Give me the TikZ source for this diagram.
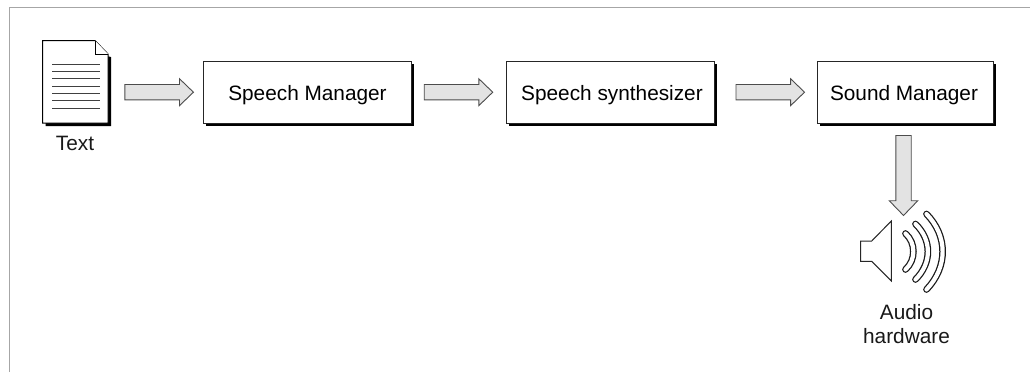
\documentclass[tikz,border=0pt]{standalone}
\usepackage{fontspec}
\setmainfont{Liberation Sans}
\usetikzlibrary{shapes.arrows,calc,positioning}
\tikzset{
  x=1pt,y=-1pt,
  box/.style={draw=black!85,line width=1pt,fill=white,minimum height=62pt,inner sep=0pt,anchor=north west,
    text height=20pt,text depth=4pt,font=\fontsize{20.8}{24}\selectfont},
  blockarrow/.style={single arrow,draw=black!70,fill=black!11,line width=0.9pt,inner sep=7.25pt,
    minimum height=#1,single arrow head extend=5.75pt,single arrow tip angle=88},
  lbl/.style={font=\fontsize{20.8}{24}\selectfont,align=center,inner sep=0pt,text=black!90},
  wave/.style={draw=black!90,line width=1.25pt,double=white,double distance=4.2pt,line cap=round},
  rule/.style={draw=black!35,line width=1pt}
}
\newcommand{\procbox}[4]{%
  \fill[black] ($(#2)+(3,3)$) rectangle +(#3,62);
  \node[box,minimum width=#3pt] (#1) at (#2) {#4};}
\begin{document}
\begin{tikzpicture}
\useasboundingbox (0,0) rectangle (1030,372);
\coordinate (fa) at (9.5,372);
\coordinate (fb) at (9.5,7);
\coordinate (fc) at (1030,7);
\draw[rule] (fa) -- (fb) -- (fc);
% document icon
\fill[black] (45.5,43.5) -- (111,57) -- (111,126) -- (45.5,126) -- cycle;
\draw[fill=white,draw=black,line width=1pt,line join=miter] (42.5,40.5) -- (95,40.5) -- (108,54) -- (108,123) -- (42.5,123) -- cycle;
\draw[black,line width=1pt,fill=white] (95,40.5) -- (95,54) -- (108,54);
\foreach \yy in {64,71.3,78.7,86,93.3,100.7,108}{\draw[black!75,line width=0.8pt] (52,\yy) -- (99.5,\yy);}
\node[lbl] (text) at (75,143) {Text};
% boxes
\procbox{sm}{203,61}{208}{Speech Manager}
\procbox{ss}{505.5,61}{208}{\hspace*{4pt}Speech synthesizer}
\procbox{sd}{817,61}{176}{Sound Manager\hspace*{3pt}}
% arrows
\node[blockarrow=68.5pt] (a1) at (155.2,92.2) {};
\node[blockarrow=68.5pt] (a2) at (454.5,92.2) {};
\node[blockarrow=68.5pt] (a3) at (766.3,92.2) {};
\node[blockarrow=80pt,shape border rotate=270,single arrow head extend=6.5pt] (a4) at (903.5,171.5) {};
% speaker
\draw[black!85,line width=1pt,fill=white,line join=miter] (860.7,241) -- (871.7,241) -- (891.3,221) -- (891.3,281) -- (871.7,261.3) -- (860.7,261.3) -- cycle;
\draw[wave] (905.5,233.5) .. controls (916,243) and (916,260) .. (905.5,269.5);
\draw[wave] (915.5,224) .. controls (932,240) and (932,263) .. (915.5,279.5);
\draw[wave] (926.5,214) .. controls (948,236) and (948,267) .. (926.5,289.5);
\node[lbl,text width=120pt] (audio) at (906.5,324.5) {Audio\\hardware};
\end{tikzpicture}
\end{document}
